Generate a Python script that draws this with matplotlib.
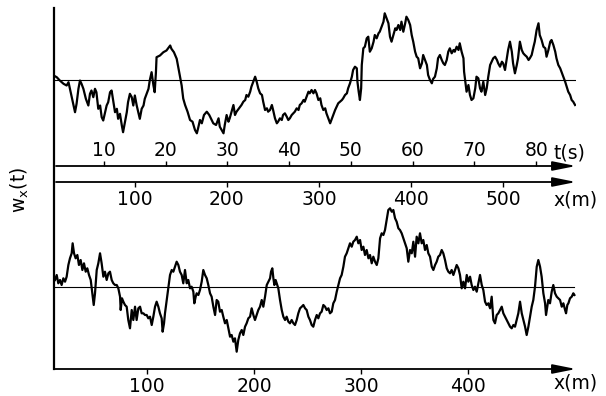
import matplotlib.pyplot as plt
from matplotlib.lines import Line2D

# upper trace: w_x against time t (s), amplitude in arbitrary units
top_t = [2.2, 2.7, 3.2, 3.8, 4.3, 4.6, 4.95, 5.4, 5.65, 5.9,
         6.2, 6.45, 6.7, 7.0, 7.4, 7.8, 8.06, 8.3, 8.6, 8.87,
         9.1, 9.4, 9.7, 9.95, 10.2, 10.5, 10.75, 11.0, 11.3, 11.55,
         11.8, 12.1, 12.4, 12.6, 12.9, 13.2, 13.4, 13.7, 14.0, 14.2,
         14.5, 14.8, 15.05, 15.3, 15.6, 15.85, 16.1, 16.4, 16.7, 16.9,
         17.2, 17.5, 17.7, 18.0, 18.3, 18.5, 18.7, 18.8, 19.35, 19.9,
         20.4, 21.0, 21.2, 21.6, 22.05, 22.3, 22.6, 22.85, 23.1,
         23.4, 23.8, 24.2, 24.6, 25.0, 25.3, 25.5, 25.8, 26.1, 26.45,
         26.9, 27.3, 27.7, 27.95, 28.4, 28.8, 29.0, 29.3, 29.6, 29.8,
         30.1, 30.4, 30.6, 30.9, 31.2, 31.45, 31.7, 32.1, 32.5, 32.8,
         33.1, 33.3, 33.6, 33.9, 34.1, 34.4, 34.7, 34.95, 35.2, 35.5,
         35.8, 36.0, 36.3, 36.6, 36.8, 37.1, 37.4, 37.6, 37.9, 38.2,
         38.4, 38.7, 39.0, 39.2, 39.5, 39.8, 40.05, 40.3, 40.6, 40.85,
         41.1, 41.4, 41.7, 41.9, 42.2, 42.5, 42.7, 43.0, 43.3, 43.5,
         43.8, 44.1, 44.35,
         44.6, 44.9, 45.2, 45.4, 45.7, 46.0, 46.2, 46.5, 46.8, 47.0,
         47.3, 47.6, 47.85, 48.1, 48.4, 48.7, 48.9, 49.2, 49.5, 49.7,
         50.0, 50.3, 50.5, 50.8, 51.1, 51.2, 51.4, 51.6, 51.8, 51.9,
         52.15, 52.4, 52.7, 52.95, 53.2, 53.5, 53.8, 54.0, 54.3, 54.6,
         54.8, 55.1, 55.4, 55.6, 55.9, 56.2, 56.45, 56.7, 57.0, 57.3,
         57.5, 57.8, 58.1, 58.3, 58.6, 58.9, 59.1, 59.4, 59.7, 59.95,
         60.2, 60.5, 60.75, 61.0, 61.3, 61.6, 61.8, 62.1, 62.4, 62.6,
         62.9, 63.2, 63.4, 63.7, 64.0, 64.2, 64.5, 64.8, 65.05,
         65.3, 65.6, 65.85, 66.1, 66.4, 66.7, 66.9, 67.2, 67.5, 67.7,
         68.0, 68.3, 68.4, 68.6, 68.8, 69.1, 69.35, 69.6, 69.9, 70.2,
         70.4, 70.7, 70.97, 71.2, 71.5, 71.8, 72.05, 72.3, 72.6, 72.85,
         73.1, 73.4, 73.7, 73.9, 74.2, 74.5, 74.7, 75.0, 75.3, 75.5,
         75.8, 76.1, 76.3, 76.6, 76.9, 77.1, 77.4, 77.7, 77.95, 78.2,
         78.5, 78.8, 79.0, 79.3, 79.6, 79.8, 80.1, 80.4, 80.6, 80.9,
         81.2, 81.5, 81.7, 82.0, 82.3, 82.5, 82.8, 83.1, 83.3, 83.6,
         83.9, 84.1, 84.4, 84.7, 84.95, 85.2, 85.5, 85.75, 86.0, 86.3]
top_w = [4, 2.3, -1, -4.3, -6, -2.7, -12.7, -26, -32.7, -24.3,
         -9.3, -1, -4.3, -9.3, -19.3, -26, -14.3, -11, -17.7, -9.3,
         -12.7, -29.3, -26, -37.7, -41, -32.7, -26, -22.7, -12.7, -11,
         -21, -32.7, -29.3, -39.3, -34.3, -46, -52.7, -42.7, -32.7, -22.7,
         -14.3, -17.7, -26, -16, -26, -32.7, -39.3, -29.3, -26, -19.3,
         -14.3, -9.3, -1, 7.3, -6, -12.7, 7.3, 22.3, 24, 27.3,
         29, 34, 30.7, 27.3, 20.7, 12.3, 2.3, -6, -19,
         -25.5, -32.2, -40.5, -42.2, -50.5, -53.8, -48.8, -40.5, -43.8, -35.5,
         -32.2, -35.5, -40.5, -43.8, -45.5, -38.8, -47.2, -50.5, -53.8, -45.5,
         -35.5, -42.2, -38.8, -32.2, -25.5, -35.5, -32.2, -28.8, -25.5, -22.2,
         -20.5, -15.5, -17.2, -12.2, -7.2, -2.2, 2.8, -2.2, -8.8, -13.8,
         -15.5, -22.2, -30.5, -28.8, -32.2, -30.5, -25.5, -30.5, -38.8, -43.8,
         -42.2, -38.8, -40.5, -35.5, -33.8, -37.2, -40.5, -38.8, -35.5, -33.8,
         -32.2, -28.8, -30.5, -25.5, -23.8, -20.5, -22.2, -17.2, -12.2, -13.8,
         -10.5, -13.8, -10.5,
         -13.8, -20.5, -18.8, -25.5, -30.5, -28.8, -33.8, -38.8, -43.8, -40.5,
         -35.5, -30.5, -27.2, -23.8, -22.2, -20.5, -18.8, -15.5, -13.8, -8.8,
         -3.8, 2.8, 9.5, 12.8, 11.2, -2.2, -12.2, -20.5, -8.8, 14.5,
         31.2, 32.8, 41.2, 42.8, 27.8, 31.2, 37.8, 44.5, 41.2, 46.2,
         47.8, 52.8, 57.8, 66.2, 61.2, 56.2, 42.8, 37.8, 44.5, 51.2,
         49.5, 54.5, 49.5, 57.8, 47.8, 56.2, 62.8, 59.5, 54.5, 44.5,
         37.8, 27.8, 22.8, 21.2, 11.2, 16.2, 24.5, 19.5, 14.5, 4.5,
         -0.5, -3.8, 0.5, 2.8, 11.2, 21.2, 24.5, 19.5, 16.2,
         14.5, 19.5, 27.8, 31.2, 26.2, 29.5, 27.8, 32.8, 29.5, 36.2,
         27.8, 21.2, 7.8, -2.2, -12.2, -5.5, -15.5, -20.5, -18.8, -8.8,
         2.8, 1.2, -8.8, -12.2, -2.2, -15.5, -8.8, 2.8, 14.5, 17.8,
         21.2, 22.8, 19.5, 16.2, 12.8, 17.8, 16.2, 9.5, 21.2, 29.5,
         37.8, 27.8, 16.2, 6.2, 14.5, 21.2, 37.8, 29.5, 26.2, 24.5,
         22.8, 19.5, 21.2, 24.5, 32.8, 37.8, 49.5, 56.2, 44.5, 39.5,
         32.8, 31.2, 22.8, 29.5, 37.8, 39.5, 34.5, 27.8, 21.2, 14.5,
         11.2, 7.8, 2.8, -2.2, -7.2, -12.2, -15.5, -20.5, -22.2, -25.5]

# lower trace: w_x against distance x (m)
bot_x = [14.0, 15.6, 17.1, 18.7, 20.2, 21.8, 23.4, 24.9, 26.5, 28.0,
         29.6, 30.5, 31.8, 33.3, 34.9, 36.4, 38.0, 39.6, 41.1, 42.7,
         44.2, 45.8, 47.4, 48.9, 50.2, 51.4, 53.0, 54.5, 56.1, 57.6,
         59.2, 60.7, 62.3, 63.9, 65.4, 67.0, 68.5, 70.1, 71.7, 73.2,
         74.8, 75.4, 76.6, 77.9, 79.4, 81.0, 82.5, 84.1, 85.7, 87.2,
         88.8, 90.3, 91.9, 93.5, 95.0, 96.6, 98.1, 99.7, 101.2, 102.8,
         104.4, 105.9, 107.5, 109.0, 110.6, 112.1, 113.7, 114.6, 115.9, 116.8,
         118.4, 119.9, 121.5, 123.1, 124.6, 126.2, 127.7, 129.3, 130.8, 132.4,
         133.9,
         135.5, 137.1, 138.6, 140.2, 141.7, 143.3, 144.2, 145.5, 146.4,
         148.0, 149.5, 151.1, 152.6, 154.2, 155.8, 157.3, 158.9, 160.4, 162.0,
         163.6, 165.1, 166.6, 168.2, 169.8, 171.3, 172.9, 174.5, 176.0, 177.6,
         179.1, 180.7, 182.2, 183.8, 185.3, 186.9, 188.5, 190.0, 191.6, 193.1,
         194.7, 196.3, 197.8, 199.4, 200.9, 202.5, 204.0, 205.6, 207.2, 208.7,
         210.3, 211.9, 213.4, 215.0, 215.9, 217.1, 218.1, 219.0, 220.2, 221.2,
         222.7, 224.3, 225.9, 227.4, 229.0, 230.5, 232.1, 233.6, 235.2, 236.8,
         238.3, 239.9, 241.4, 243.0, 244.6, 246.1, 247.7, 249.2, 250.8, 252.3,
         253.9, 255.4, 257.0,
         258.6, 260.1, 261.7, 263.2, 264.8, 266.4, 267.9,
         269.5, 271.0, 272.6, 274.1, 275.7, 277.3, 278.8, 280.4, 281.9, 283.5,
         285.0, 286.6, 288.2, 289.7, 291.3, 292.8, 294.4, 296.0, 297.5, 299.1,
         300.6, 302.2, 303.7, 305.3, 306.9, 308.4, 310.0, 311.5, 313.1, 314.7,
         316.2, 317.8, 319.3, 320.9, 322.4, 324.0, 325.5, 327.1, 328.7, 330.2,
         331.8, 333.3, 334.9, 336.4, 338.0, 339.6, 341.1, 342.7, 344.2, 345.8,
         347.4, 348.9, 350.5, 352.0, 353.6, 355.1, 356.7, 358.2, 359.8, 361.4,
         362.9, 364.5, 366.1, 367.6, 369.2, 370.7, 372.2, 373.8, 375.4, 376.9,
         378.5, 380.1, 381.6, 383.2, 384.7, 386.3, 387.9, 389.4, 391.0, 392.5,
         394.1, 395.6, 397.2, 398.8, 400.3, 401.9, 403.4, 405.0, 406.5, 408.1,
         409.7, 411.2, 412.8, 414.3, 415.9, 417.4, 419.0, 420.6, 422.1, 423.7,
         425.2, 426.8, 428.3, 429.9, 431.5, 433.0, 434.6, 436.1, 437.7, 439.3,
         440.8, 442.4, 443.9, 445.5, 447.0, 448.6, 450.2, 451.7, 453.3, 454.8,
         456.4, 457.9, 459.5, 461.0, 462.6, 464.2, 465.7, 467.3, 468.8, 470.4,
         472.0, 472.9, 474.1, 475.0, 476.6, 478.2, 479.7, 481.3, 482.9, 484.4,
         486.0, 487.6, 489.1, 490.7, 491.6, 492.8, 493.8, 495.3, 496.9, 498.4,
         499.4]
bot_w = [7.3, 12.3, 4, 7.3, 2.3, 9, 5.6, 10.6, 22.3, 29,
         34, 44, 34, 29, 32.3, 22.3, 27.3, 17.3, 24, 15.6,
         19, 12.3, 7.3, -6, -17.7, -6, 17.3, 24, 34, 24,
         10.6, 15.6, 7.3, 14, 15.6, 7.3, 4, 2.3, 2.3, -1,
         -9.4, -22.7, -11, -14.4, -17.7, -19.4, -32.7, -41, -22.7, -32.7,
         -19.4, -32.7, -21, -19.4, -26, -26, -27.7, -27.7, -31, -29.4,
         -37.7, -29.4, -19.4, -14.4, -19.4, -26, -31, -44.4, -36, -26,
         -12.7, -1, 12.3, 17.3, 15.6, 20.6, 25.6, 22.3, 15.6, 12.3,
         4,
         17.3, 4, 7.3, -1, 0.6, -4.4, -16, -9.4, -6,
         -7.7, -2.7, 5.6, 17.3, 12.3, 9, 2.3, -6, -9.4, -19.4,
         -27.7, -12.7, -14.4, -24.4, -22.7, -29.4, -36, -32.7, -41, -49.4,
         -47.7, -54.4, -51, -64.4, -52.7, -46, -42.7, -47.7, -39.4, -36,
         -31, -29.4, -21, -27.7, -32.7, -27.7, -22.7, -19.4, -12.7, -19.4,
         -9.4, 2.3, 5.6, 9, 15.6, 19, 9, 2.3, 7.3, 4,
         -1, -12.7, -22.7, -29.4, -32.7, -29.4, -34.4, -36, -32.7, -36,
         -37.7, -32.7, -26, -21, -19.4, -17.7, -21, -22.7, -29.4, -32.7,
         -37.7, -39.4, -32.7,
         -27.7, -31, -26, -24.4, -17.7, -19.4, -22.7,
         -21, -26, -24.4, -16, -12.7, -4.4, 2.3, 9, 12.3, 20.6,
         30.6, 34, 39, 44, 40.6, 45.6, 47.3, 50.6, 44, 47.3,
         37.3, 40.6, 32.3, 37.3, 29, 32.3, 24, 30.6, 25.6, 22.3,
         29, 49, 54, 52.3, 57.3, 67.3, 77.3, 79, 75.6, 77.3,
         69, 65.6, 59, 57.3, 54, 49, 44, 39, 25.6, 37.3,
         34, 45.6, 30.6, 50.6, 44, 54, 44, 47.3, 37.3, 42.3,
         34, 30.6, 20.6, 17.3, 22.3, 25.6, 30.6, 32.3, 37.3, 34,
         27.3, 19, 15.6, 14, 17.3, 12.3, 17.3, 22.3, 19, 12.3,
         -1, 5.6, -1, 12.3, 5.6, 10.6, 2.3, -2.7, 0.6, -4.4,
         4, 12.3, 2.3, -2.7, -14.4, -17.7, -16, -21, -9.4, -32.7,
         -36, -27.7, -26, -22.7, -19.4, -26, -29.4, -32.7, -36, -39.4,
         -41, -37.7, -39.4, -32.7, -26, -14.4, -26, -32.7, -39.4, -47.7,
         -39.4, -29.4, -19.4, -12.7, 0.6, 20.6, 27.3, 20.6, 10.6, -6,
         -16, -27.7, -19.4, -12.7, -16, -4.4, 2.3, -6, -9.4, -11,
         -12.7, -19.4, -16, -22.7, -26, -17.7, -16, -11, -9.4, -6,
         -7.7]

t_ticks = [10, 20, 30, 40, 50, 60, 70, 80]
x_ticks_top = [100, 200, 300, 400, 500]
x_ticks_bot = [100, 200, 300, 400]

W, H = 606.0, 396.0


def box(x0, y0, x1, y1):
    # pixel rectangle (origin top-left) -> figure fraction
    return [x0 / W, 1 - y1 / H, (x1 - x0) / W, (y1 - y0) / H]


ARROW = dict(arrowstyle='-|>,head_length=1.0,head_width=0.2',
             color='k', lw=1.3, mutation_scale=14, shrinkA=0, shrinkB=0)


def arrow_axis(ax, y=0):
    for s in ax.spines.values():
        s.set_visible(False)
    ax.annotate('', xy=(1, y), xytext=(0, y), xycoords='axes fraction', arrowprops=ARROW)


plt.rcParams['font.family'] = 'DejaVu Sans'
fig = plt.figure(figsize=(6.06, 3.96), dpi=100)

# upper signal
ax1 = fig.add_axes(box(54, 8, 576, 140))
ax1.plot(top_t, top_w, color='k', lw=1.6)
ax1.axhline(0, color='k', lw=0.8)
ax1.set_xlim(2.26, 86.45)
ax1.set_ylim(-60.5, 71.5)
ax1.axis('off')

# t(s) axis
ax_t = fig.add_axes(box(56, 166, 576, 167))
ax_t.set_xlim(2.26, 86.45)
ax_t.set_yticks([])
ax_t.set_xticks(t_ticks)
ax_t.tick_params(axis='x', bottom=False, top=True, labelbottom=False, labeltop=True,
                 direction='out', length=3.5, width=1, pad=0.5, labelsize=13.5)
arrow_axis(ax_t, y=1)

# x(m) axis belonging to the upper trace
ax_x = fig.add_axes(box(56, 181, 576, 182))
ax_x.set_xlim(14.6, 578.9)
ax_x.set_yticks([])
ax_x.set_xticks(x_ticks_top)
ax_x.tick_params(axis='x', direction='out', length=3.5, width=1, pad=2.5, labelsize=13.5)
arrow_axis(ax_x)

# lower signal
ax2 = fig.add_axes(box(54, 205, 576, 369))
ax2.plot(bot_x, bot_w, color='k', lw=1.6)
ax2.plot([13.08, 499], [0, 0], color='k', lw=0.8)
ax2.set_xlim(13.08, 500.9)
ax2.set_ylim(-81.7, 82.3)
ax2.set_yticks([])
ax2.set_xticks(x_ticks_bot)
ax2.tick_params(axis='x', direction='out', length=3.5, width=1, pad=2, labelsize=13.5)
arrow_axis(ax2)

# common vertical axis line
fig.add_artist(Line2D([54 / W, 54 / W], [1 - 8 / H, 1 - 369 / H], color='k', lw=1.6))

fig.text(553 / W, 1 - 153 / H, 't(s)', fontsize=13.5, va='center', ha='left')
fig.text(553 / W, 1 - 200 / H, 'x(m)', fontsize=13.5, va='center', ha='left')
fig.text(553 / W, 1 - 383 / H, 'x(m)', fontsize=13.5, va='center', ha='left')
fig.text(20 / W, 1 - 190 / H, r'$\mathregular{w_x(t)}$', fontsize=13.5, rotation=90,
         va='center', ha='center')

fig.savefig('out.png', dpi=100)
